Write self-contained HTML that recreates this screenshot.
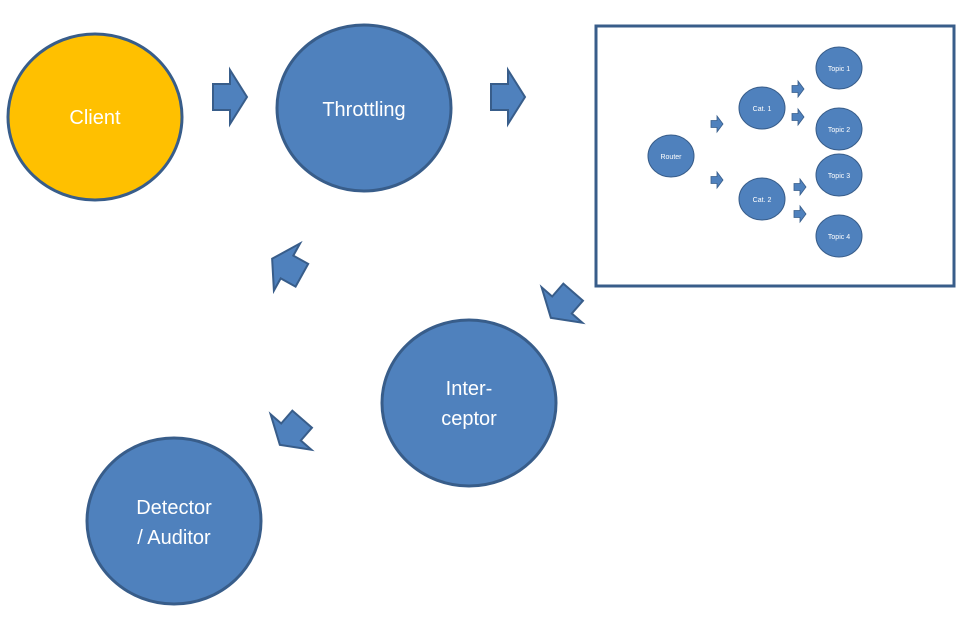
<!DOCTYPE html>
<html><head><meta charset="utf-8"><style>
html,body{margin:0;padding:0;background:#fff;width:960px;height:622px;overflow:hidden}
svg text{font-family:"Liberation Sans",sans-serif;fill:#fff;text-anchor:middle}
</style></head><body>
<svg width="960" height="622" viewBox="0 0 960 622" xmlns="http://www.w3.org/2000/svg">
<defs>
<polygon id="ar" points="-17,-13 0,-13 0,-27 17,0 0,27 0,13 -17,13" fill="#4f81bd" stroke="#385d8a" stroke-width="2" stroke-linejoin="miter"/>
<polygon id="sa" points="-6,-3.5 0,-3.5 0,-8 6,0 0,8 0,3.5 -6,3.5" fill="#4f81bd" stroke="#385d8a" stroke-width="0.8"/>
</defs>
<g stroke="#385d8a" stroke-width="3">
<ellipse cx="95" cy="117" rx="87" ry="83" fill="#ffc000"/>
<ellipse cx="364" cy="108" rx="87" ry="83" fill="#4f81bd"/>
<ellipse cx="469" cy="403" rx="87" ry="83" fill="#4f81bd"/>
<ellipse cx="174" cy="521" rx="87" ry="83" fill="#4f81bd"/>
</g>
<text x="95" y="124" font-size="20">Client</text>
<text x="364" y="116" font-size="20">Throttling</text>
<text x="469" y="395" font-size="20">Inter-</text>
<text x="469" y="425" font-size="20">ceptor</text>
<text x="174" y="514" font-size="20">Detector</text>
<text x="174" y="544" font-size="20">/ Auditor</text>
<use href="#ar" transform="translate(230,97)"/>
<use href="#ar" transform="translate(508,97)"/>
<use href="#ar" transform="translate(287,267) rotate(-151)"/>
<use href="#ar" transform="translate(562,305) rotate(131)"/>
<use href="#ar" transform="translate(291,432) rotate(131)"/>
<rect x="596" y="26" width="358" height="260" fill="#fff" stroke="#385d8a" stroke-width="3"/>
<g fill="#4f81bd" stroke="#385d8a" stroke-width="1">
<ellipse cx="671" cy="156" rx="23" ry="21"/>
<ellipse cx="762" cy="108" rx="23" ry="21"/>
<ellipse cx="762" cy="199" rx="23" ry="21"/>
<ellipse cx="839" cy="68" rx="23" ry="21"/>
<ellipse cx="839" cy="129" rx="23" ry="21"/>
<ellipse cx="839" cy="175" rx="23" ry="21"/>
<ellipse cx="839" cy="236" rx="23" ry="21"/>
</g>
<g font-size="7">
<text x="671" y="159">Router</text>
<text x="762" y="111">Cat. 1</text>
<text x="762" y="202">Cat. 2</text>
<text x="839" y="71">Topic 1</text>
<text x="839" y="132">Topic 2</text>
<text x="839" y="178">Topic 3</text>
<text x="839" y="239">Topic 4</text>
</g>
<use href="#sa" transform="translate(717,124)"/>
<use href="#sa" transform="translate(717,180)"/>
<use href="#sa" transform="translate(798,89)"/>
<use href="#sa" transform="translate(798,117)"/>
<use href="#sa" transform="translate(800,187)"/>
<use href="#sa" transform="translate(800,214)"/>
</svg>
</body></html>
